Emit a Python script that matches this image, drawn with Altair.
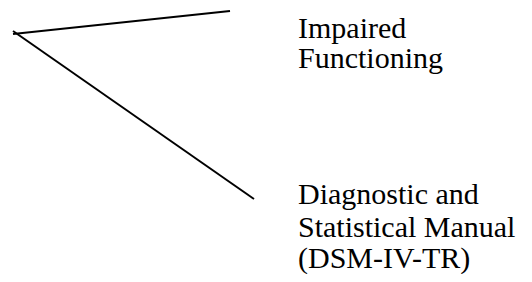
import altair as alt
import pandas as pd

# line segments (start and end points)
seg_names = ["Impaired Functioning", "DSM"]
x_start = [13, 13]
y_start = [34, 31]
x_end = [230, 254]
y_end = [11, 199]

# label lines and their baselines
label_lines = ["Impaired", "Functioning", "Diagnostic and", "Statistical Manual", "(DSM-IV-TR)"]
label_x = [298, 298, 298, 298, 298]
label_y = [38, 68, 204, 237, 268]

segs = pd.DataFrame({"name": seg_names, "x": x_start, "y": y_start, "x2": x_end, "y2": y_end})
labs = pd.DataFrame({"label": label_lines, "x": label_x, "y": label_y})

xs = alt.Scale(domain=[8, 524])
ys = alt.Scale(domain=[274, 8])

lines = alt.Chart(segs).mark_rule(color="black", strokeWidth=2).encode(
    x=alt.X("x:Q", scale=xs, axis=None),
    y=alt.Y("y:Q", scale=ys, axis=None),
    x2="x2:Q",
    y2="y2:Q",
)

text = alt.Chart(labs).mark_text(
    align="left", baseline="alphabetic", font="Liberation Serif", fontSize=30, color="black"
).encode(
    x=alt.X("x:Q", scale=xs, axis=None),
    y=alt.Y("y:Q", scale=ys, axis=None),
    text="label:N",
)

chart = (lines + text).properties(
    width=516, height=266, padding=0, autosize=alt.AutoSizeParams(type="none")
).configure_view(stroke=None)

chart.save("out.html", embed_options={"renderer": "svg", "actions": False})
